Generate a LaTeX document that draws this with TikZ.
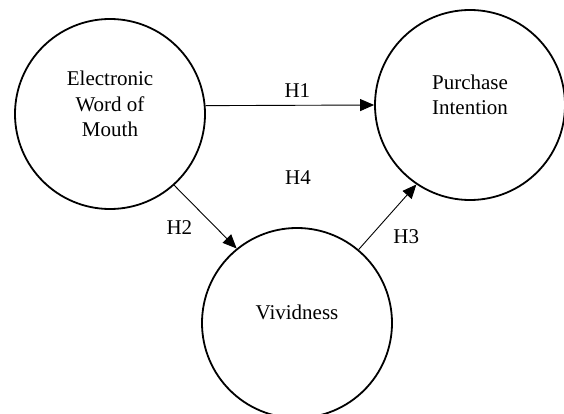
\documentclass[tikz,border=0pt]{standalone}
\usepackage{fontspec}
\setmainfont{Liberation Serif}
\usetikzlibrary{arrows.meta}
\begin{document}
\begin{tikzpicture}[x=1pt,y=-1pt,
  construct/.style={circle, draw, line width=1.8pt, minimum size=190pt, inner sep=0pt},
  inlabel/.style={align=center, font=\fontsize{21}{25.5}\selectfont},
  hyp/.style={font=\fontsize{21}{25.5}\selectfont, inner sep=0pt, anchor=center},
  hpath/.style={line width=0.9pt, -{Triangle[length=14pt,width=12pt]}}]
\useasboundingbox (0,0) rectangle (564,414);
\node[construct, label={[inlabel, yshift=10pt]center:Electronic\\Word of\\Mouth}] (E) at (110,114) {};
\node[construct, label={[inlabel, yshift=10pt]center:Purchase\\Intention}] (P) at (470,105) {};
\node[construct, label={[inlabel, yshift=11pt]center:Vividness}] (V) at (297,323) {};
\draw[hpath] (E.5.4) -- node[hyp, pos=0.545, yshift=15pt] (h1) {H1} (P.180);
\draw[hpath] (E.-48.5) -- node[hyp, pos=0.5, xshift=-26pt, yshift=-10.6pt] (h2) {H2} (V.129.4);
\draw[hpath] (V.50) -- node[hyp, pos=0.5, xshift=18.7pt, yshift=-19.4pt] (h3) {H3} (P.236);
\node[hyp] (h4) at (298,178) {H4};
\end{tikzpicture}
\end{document}
